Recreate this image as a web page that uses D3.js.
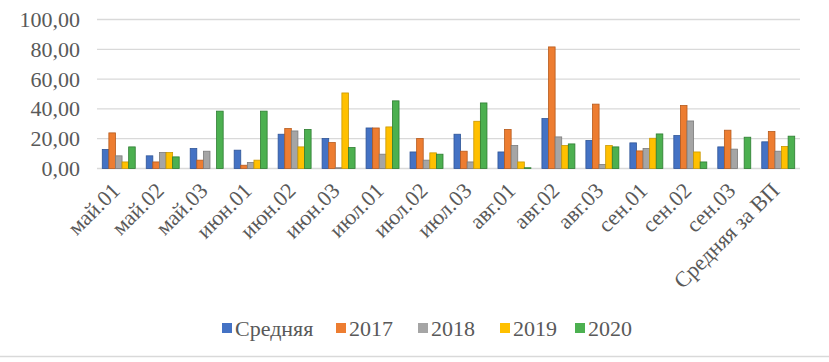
<!DOCTYPE html>
<html>
<head>
<meta charset="utf-8">
<script src="https://cdn.jsdelivr.net/npm/d3@7"></script>
<style>
  body { margin: 0; background: #fff; }
</style>
</head>
<body>
<div id="chart"></div>
<script>
    // categories and series
    var categories = ["май.01", "май.02", "май.03", "июн.01", "июн.02", "июн.03", "июл.01", "июл.02",
      "июл.03", "авг.01", "авг.02", "авг.03", "сен.01", "сен.02", "сен.03", "Средняя за ВП"];
    var seriesNames = ["Средняя", "2017", "2018", "2019", "2020"];
    var avg   = [12.8, 8.5, 13.4, 12.3, 23.0, 20.1, 27.2, 11.1, 23.0, 11.1, 33.5, 18.8, 17.2, 22.1, 14.5, 17.9];
    var y2017 = [23.9, 4.4, 5.6, 2.2, 26.8, 17.4, 27.2, 20.1, 11.6, 26.2, 81.6, 43.2, 11.8, 42.3, 25.7, 24.8];
    var y2018 = [8.5, 10.7, 11.6, 4.0, 25.2, 0.5, 9.6, 5.6, 4.4, 15.4, 21.2, 2.7, 13.4, 31.9, 13.0, 11.6];
    var y2019 = [4.4, 10.7, 0.0, 5.6, 14.5, 50.7, 27.9, 10.5, 31.7, 4.4, 15.4, 15.4, 20.3, 11.1, 0.0, 14.8];
    var y2020 = [14.5, 7.8, 38.5, 38.5, 26.2, 14.1, 45.4, 9.6, 44.0, 0.5, 16.5, 14.5, 23.2, 4.4, 21.0, 21.7];
    var yTicks = [0, 20, 40, 60, 80, 100];

    var colors = ["#4472C4", "#ED7D31", "#A5A5A5", "#FFC000", "#4CB050"];
    var edges  = ["#2F5597", "#B65A1C", "#7B7B7B", "#C99700", "#2E7D32"];
    var allSeries = [avg, y2017, y2018, y2019, y2020];

    var FONT = "Liberation Serif";

    var W = 829, H = 362;
    var svg = d3.select("#chart").append("svg")
      .attr("width", W).attr("height", H)
      .attr("font-family", FONT);

    // dimensions of the plot area
    var plotLeft = 97, plotRight = 800, plotTop = 19.5, plotBottom = 168.5;

    var x = d3.scaleBand().domain(categories).range([plotLeft, plotRight]).paddingInner(0.25).paddingOuter(0.12);
    var xs = d3.scaleBand().domain(seriesNames).range([0, x.bandwidth()]);
    var y = d3.scaleLinear().domain([0, 100]).range([plotBottom, plotTop]);

    // gridlines
    svg.append("g").selectAll("line").data(yTicks).join("line")
      .attr("x1", plotLeft).attr("x2", plotRight)
      .attr("y1", function (d) { return y(d); })
      .attr("y2", function (d) { return y(d); })
      .attr("stroke", "#d9d9d9").attr("stroke-width", 1.3);

    // Y axis labels
    var yAxis = svg.append("g")
      .attr("transform", "translate(" + (plotLeft - 17) + ",0)")
      .call(d3.axisLeft(y).tickValues(yTicks).tickSize(0).tickPadding(0)
        .tickFormat(function (d) { return d3.format(".2f")(d).replace(".", ","); }));
    yAxis.select(".domain").remove();
    yAxis.attr("font-family", FONT).attr("font-size", "22");
    yAxis.selectAll("text").attr("fill", "#595959");

    // bars
    seriesNames.forEach(function (name, si) {
      svg.append("g").selectAll("rect").data(allSeries[si]).join("rect")
        .attr("x", function (d, i) { return x(categories[i]) + xs(name); })
        .attr("y", function (d) { return y(d); })
        .attr("width", xs.bandwidth())
        .attr("height", function (d) { return plotBottom - y(d); })
        .attr("fill", colors[si])
        .attr("stroke", edges[si])
        .attr("stroke-width", 0.8);
    });

    // X labels
    svg.append("g").selectAll("text").data(categories).join("text")
      .attr("transform", function (d) {
        return "translate(" + (x(d) + x.bandwidth() / 2 - 3) + "," + (plotBottom + 18) + ") rotate(-45)";
      })
      .attr("text-anchor", "end")
      .attr("dy", "0.35em")
      .attr("fill", "#595959")
      .attr("font-size", "22")
      .text(function (d) { return d; });

    // legend
    var legendX = [222, 336, 418, 500, 575];
    var lg = svg.append("g");
    seriesNames.forEach(function (name, si) {
      lg.append("rect").attr("x", legendX[si]).attr("y", 323).attr("width", 10).attr("height", 10)
        .attr("fill", colors[si]);
      lg.append("text").attr("x", legendX[si] + 13).attr("y", 328).attr("dy", "0.35em")
        .attr("fill", "#595959")
        .attr("font-size", "22").text(name);
    });

    // bottom border
    svg.append("line").attr("x1", 0).attr("x2", W).attr("y1", 356.5).attr("y2", 356.5)
      .attr("stroke", "#d9d9d9").attr("stroke-width", 1.5);
</script>
</body>
</html>
